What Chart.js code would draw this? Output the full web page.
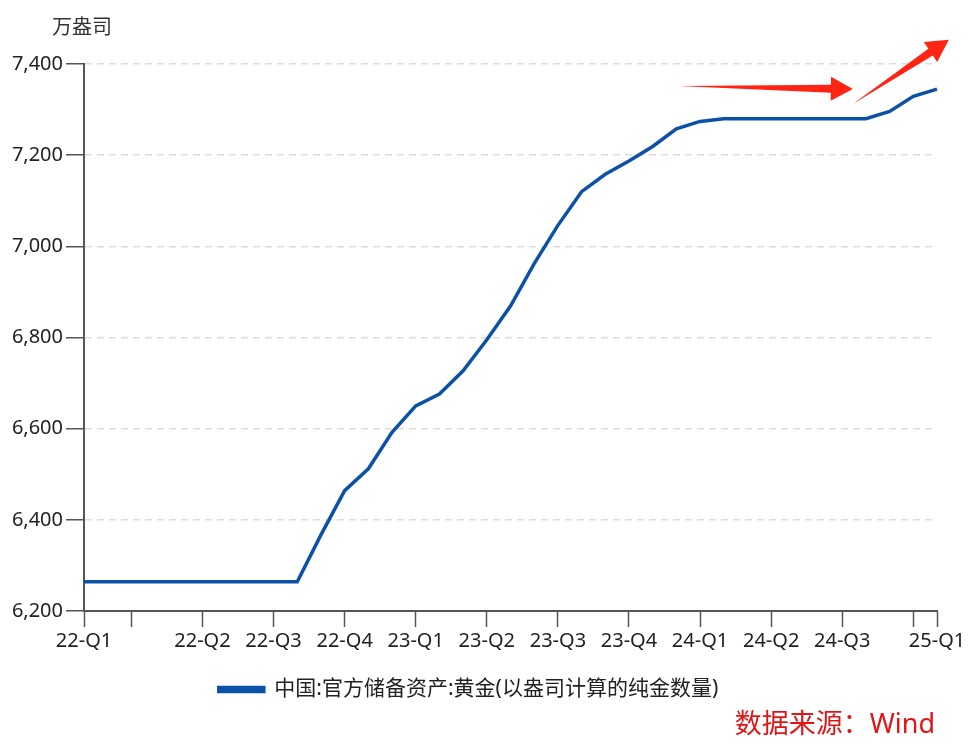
<!DOCTYPE html>
<html lang="zh">
<head>
    <meta charset="UTF-8">
    <title>中国官方黄金储备</title>
    <script src="https://cdn.jsdelivr.net/npm/chart.js@4"></script>
    <style>
        body { margin: 0; background: #fff; }
        canvas { display: block; }
    </style>
</head>
<body>
    <canvas id="goldChart" width="979" height="748"></canvas>
    <script>
        // monthly data, 2022-01 .. 2025-01
        const months = [
            '2022-01','2022-02','2022-03','2022-04','2022-05','2022-06','2022-07','2022-08','2022-09','2022-10','2022-11','2022-12',
            '2023-01','2023-02','2023-03','2023-04','2023-05','2023-06','2023-07','2023-08','2023-09','2023-10','2023-11','2023-12',
            '2024-01','2024-02','2024-03','2024-04','2024-05','2024-06','2024-07','2024-08','2024-09','2024-10','2024-11','2024-12',
            '2025-01'
        ];
        const goldReserve = [
            6264, 6264, 6264, 6264, 6264, 6264, 6264, 6264, 6264, 6264, 6367, 6464,
            6512, 6592, 6650, 6676, 6727, 6795, 6869, 6962, 7046, 7120, 7158, 7187,
            7219, 7258, 7274, 7280, 7280, 7280, 7280, 7280, 7280, 7280, 7296, 7329,
            7345
        ];
        // which month gets a tick on the x axis, and its text ('' = tick only)
        const tickIndex = [0, 2, 5, 8, 11, 14, 17, 20, 23, 26, 29, 32, 35, 36];
        const tickText = ['22-Q1', '', '22-Q2', '22-Q3', '22-Q4', '23-Q1', '23-Q2', '23-Q3', '23-Q4', '24-Q1', '24-Q2', '24-Q3', '', '25-Q1'];

        const seriesName = '中国:官方储备资产:黄金(以盎司计算的纯金数量)';
        const unitText = '万盎司';
        const sourceText = '数据来源：Wind';

        const FONT = '"Noto Sans", "Noto Sans CJK SC", sans-serif';
        const BLUE = '#0b51a8';
        const RED = '#ff2414';
        const AXIS = '#555555';

        // tapered arrow from (x0,y0) to (x1,y1) in pixels
        function drawArrow(ctx, x0, y0, x1, y1) {
            const dx = x1 - x0, dy = y1 - y0;
            const len = Math.sqrt(dx * dx + dy * dy);
            const ux = dx / len, uy = dy / len;
            const nx = -uy, ny = ux;
            const headLen = 22, headW = 12, shaftW = 4;
            const bx = x1 - ux * headLen, by = y1 - uy * headLen;
            ctx.beginPath();
            ctx.moveTo(x0, y0);
            ctx.lineTo(bx + nx * shaftW, by + ny * shaftW);
            ctx.lineTo(bx + nx * headW, by + ny * headW);
            ctx.lineTo(x1, y1);
            ctx.lineTo(bx - nx * headW, by - ny * headW);
            ctx.lineTo(bx - nx * shaftW, by - ny * shaftW);
            ctx.closePath();
            ctx.fill();
        }

        const extras = {
            id: 'extras',
            afterDraw(chart) {
                const ctx = chart.ctx;
                const area = chart.chartArea;
                const x = chart.scales.x;
                const y = chart.scales.y;
                ctx.save();
                // unit above the y axis
                ctx.font = '20px ' + FONT;
                ctx.fillStyle = '#333';
                ctx.textAlign = 'left';
                ctx.textBaseline = 'middle';
                ctx.fillText(unitText, area.left - 32, area.top - 36);
                // source note
                ctx.font = '27px ' + FONT;
                ctx.fillStyle = '#e01515';
                ctx.textAlign = 'right';
                ctx.fillText(sourceText, area.right - 2, chart.height - 23);
                // red arrows
                ctx.fillStyle = RED;
                drawArrow(ctx, x.getPixelForValue(25.1), y.getPixelForValue(7352),
                               x.getPixelForValue(32.45), y.getPixelForValue(7345));
                drawArrow(ctx, x.getPixelForValue(32.45), y.getPixelForValue(7312),
                               x.getPixelForValue(36.5), y.getPixelForValue(7453));
                ctx.restore();
            }
        };

        const ctx = document.getElementById('goldChart').getContext('2d');
        new Chart(ctx, {
            type: 'line',
            data: {
                labels: months,
                datasets: [{
                    label: seriesName,
                    data: goldReserve,
                    borderColor: BLUE,
                    backgroundColor: BLUE,
                    borderWidth: 3.5,
                    pointRadius: 0,
                    tension: 0
                }]
            },
            options: {
                responsive: false,
                animation: false,
                layout: {
                    padding: { left: 0, right: 42, top: 64, bottom: 38 }
                },
                scales: {
                    x: {
                        grid: {
                            drawOnChartArea: false,
                            drawTicks: true,
                            tickLength: 16,
                            tickColor: AXIS,
                            tickWidth: 1.5
                        },
                        border: { display: true, color: AXIS, width: 2 },
                        ticks: {
                            autoSkip: false,
                            maxRotation: 0,
                            padding: 2,
                            color: '#222',
                            font: { family: FONT, size: 20 },
                            callback: function (value, index) {
                                const k = tickIndex.indexOf(index);
                                return k === -1 ? null : tickText[k];
                            }
                        },
                        afterFit: function (scale) { scale.height = 58; }
                    },
                    y: {
                        min: 6200,
                        max: 7400,
                        grid: {
                            color: '#dddddd',
                            lineWidth: 1.5,
                            tickLength: 18,
                            tickColor: AXIS,
                            tickWidth: 1.5,
                            tickBorderDash: []
                        },
                        border: { display: true, color: AXIS, width: 2, dash: [7, 5] },
                        ticks: {
                            stepSize: 200,
                            padding: 3,
                            color: '#222',
                            font: { family: FONT, size: 20 },
                            callback: v => v.toLocaleString('en-US')
                        },
                        afterFit: function (scale) { scale.width = 84; }
                    }
                },
                plugins: {
                    legend: {
                        position: 'bottom',
                        labels: {
                            boxWidth: 45,
                            boxHeight: 4,
                            padding: 10,
                            color: '#222',
                            font: { family: FONT, size: 21 }
                        }
                    },
                    tooltip: { enabled: false }
                }
            },
            plugins: [extras]
        });
    </script>
</body>
</html>
